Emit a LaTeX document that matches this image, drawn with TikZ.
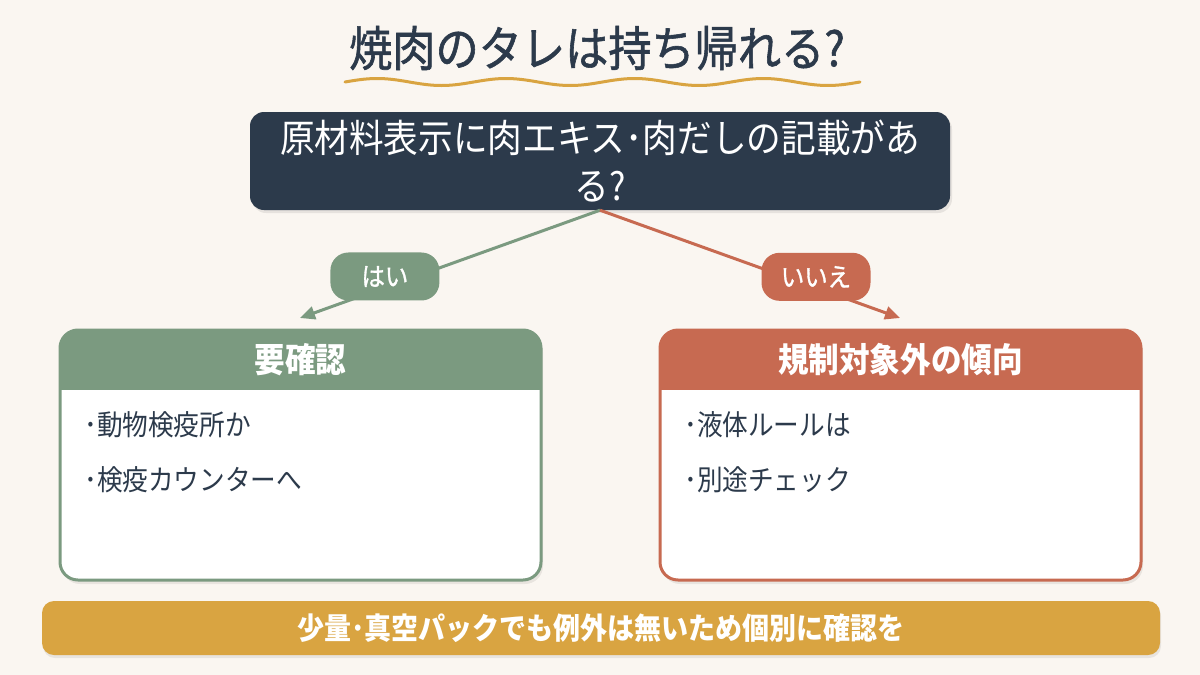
\documentclass[tikz,border=0pt]{standalone}
\usepackage{fontspec}
\newfontfamily\jpfont[FakeStretch=0.9]{Noto Sans CJK JP}
\newfontfamily\jpmid[FakeStretch=0.9,FakeBold=1.2]{Noto Sans CJK JP}
\usetikzlibrary{arrows.meta}
\definecolor{bgcream}{HTML}{FAF6F1}
\definecolor{navy}{HTML}{2C3A4B}
\definecolor{sage}{HTML}{7B9A80}
\definecolor{rust}{HTML}{C76A51}
\definecolor{mustard}{HTML}{D9A441}
\tikzset{
  titletext/.style={text=navy, font=\jpmid\fontsize{48}{52}\selectfont, inner sep=0pt},
  qbox/.style={fill=navy, text=white, rounded corners=14pt, minimum width=700pt, minimum height=98pt,
    align=center, font=\jpfont\fontsize{38.5}{48}\selectfont, inner sep=0pt},
  pill/.style={fill=#1, text=white, rounded corners=18pt, minimum width=109pt, minimum height=48pt,
    font=\jpmid\fontsize{26}{28}\selectfont, inner sep=0pt},
  branch/.style={draw=#1, line width=3pt, -{Triangle[length=15pt,width=13pt]}},
  cardtitle/.style={text=white, font=\jpfont\bfseries\fontsize{34}{36}\selectfont, inner sep=0pt},
  item/.style={text=navy, anchor=west, font=\jpfont\fontsize{28.5}{30}\selectfont, inner sep=0pt},
  notebar/.style={fill=mustard, text=white, rounded corners=12pt, minimum width=1118pt, minimum height=54pt,
    font=\jpfont\bfseries\fontsize{30}{32}\selectfont, inner sep=0pt}
}
\begin{document}
\begin{tikzpicture}[x=1pt,y=-1pt]
  \useasboundingbox[fill=bgcream] (0,0) rectangle (1200,675);
  % title with wavy underline
  \node[titletext] (title) at (597,48) {焼肉のタレは持ち帰れる?};
  \draw[mustard, line width=3pt, line cap=round]
    plot[domain=0:515, samples=140] (345+\x,{82-3.5*sin(2.796*\x)});
  % question
  \fill[black, opacity=0.08, rounded corners=14pt] (252,115) rectangle (952,213);
  \node[qbox] (q) at (600,161) {原材料表示に肉エキス･肉だしの記載があ\\る?};
  % branches
  \coordinate (yestip) at (300,318);
  \coordinate (notip) at (900,318);
  \draw[branch=sage] (q.south) -- node[pill=sage, pos=0.717, yshift=11pt] (yes) {はい} (yestip);
  \draw[branch=rust] (q.south) -- node[pill=rust, pos=0.72, yshift=11pt] (no) {いいえ} (notip);
  % left card
  \fill[black, opacity=0.07, rounded corners=18pt] (62,334) rectangle (543,584);
  \begin{scope}
    \clip[rounded corners=18pt] (60,330) rectangle (541,580);
    \fill[white] (60,330) rectangle (541,580);
    \fill[sage] (60,330) rectangle (541,390);
  \end{scope}
  \draw[sage, line width=3pt, rounded corners=18pt] (60,330) rectangle (541,580);
  \node[cardtitle] (yeshead) at (300.5,360) {要確認};
  \node[item] (yesa) at (84,425) {･動物検疫所か};
  \node[item] (yesb) at (84,480) {･検疫カウンターへ};
  % right card
  \fill[black, opacity=0.07, rounded corners=18pt] (662,334) rectangle (1143,584);
  \begin{scope}
    \clip[rounded corners=18pt] (660,330) rectangle (1141,580);
    \fill[white] (660,330) rectangle (1141,580);
    \fill[rust] (660,330) rectangle (1141,390);
  \end{scope}
  \draw[rust, line width=3pt, rounded corners=18pt] (660,330) rectangle (1141,580);
  \node[cardtitle] (nohead) at (900.5,360) {規制対象外の傾向};
  \node[item] (noa) at (684,425) {･液体ルールは};
  \node[item] (nob) at (684,480) {･別途チェック};
  % bottom note
  \fill[black, opacity=0.07, rounded corners=12pt] (43,604) rectangle (1161,658);
  \node[notebar] (note) at (601,628) {少量･真空パックでも例外は無いため個別に確認を};
\end{tikzpicture}
\end{document}
